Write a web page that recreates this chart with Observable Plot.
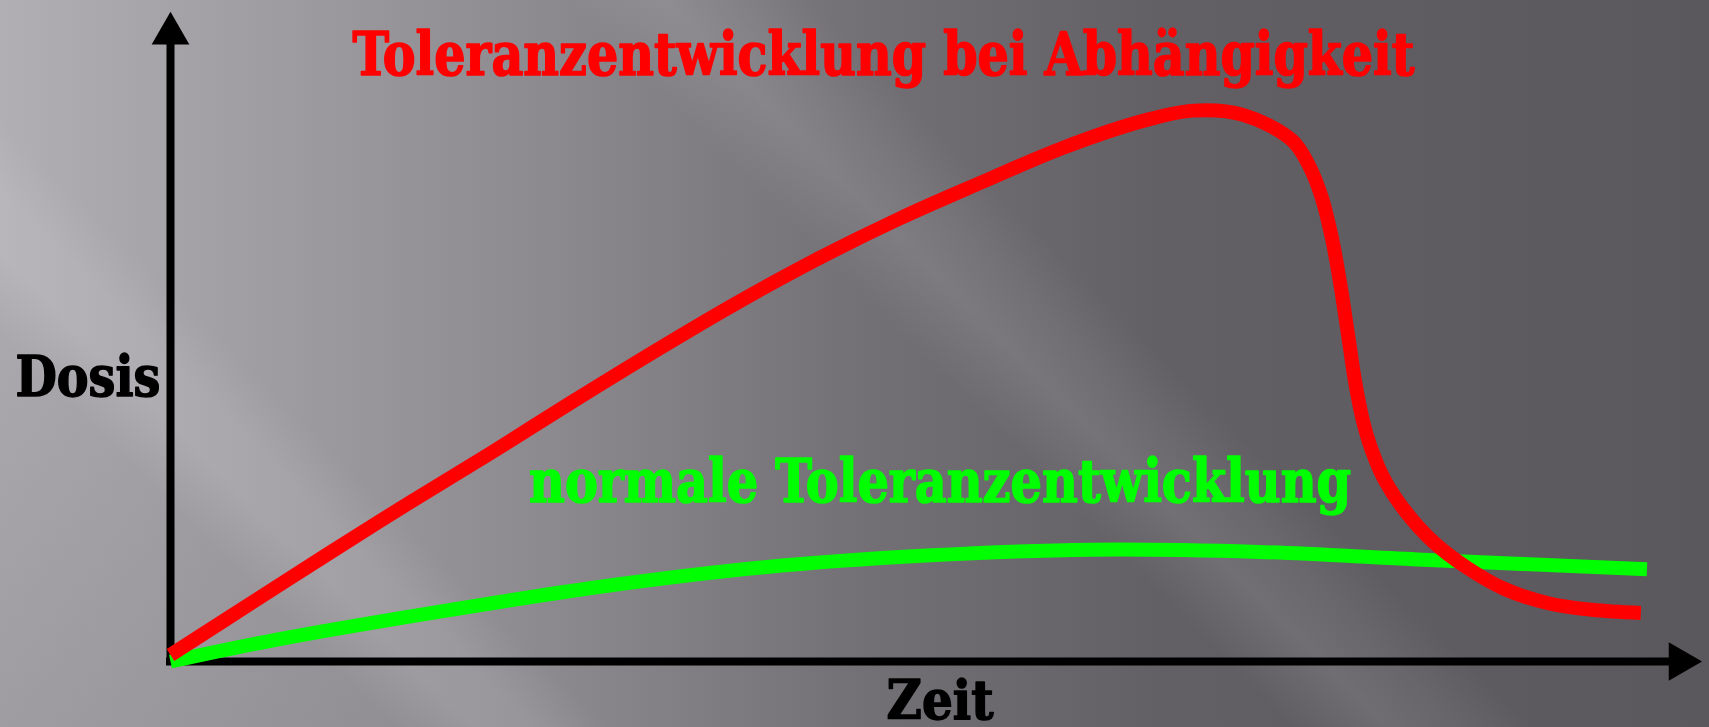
<!DOCTYPE html>
<html><head><meta charset="utf-8">
<script src="https://cdn.jsdelivr.net/npm/d3@7"></script>
<script src="https://cdn.jsdelivr.net/npm/@observablehq/plot@0.6"></script>
<style>
html,body{margin:0;padding:0;width:1709px;height:727px;overflow:hidden;}
body{background:
 linear-gradient(45deg, rgba(0,0,0,0.10) 0%, rgba(0,0,0,0.04) 16%, rgba(255,255,255,0.09) 19.5%, rgba(255,255,255,0.09) 22%, rgba(255,255,255,0) 25%, rgba(255,255,255,0) 53%, rgba(255,255,255,0.10) 57%, rgba(255,255,255,0.06) 60%, rgba(255,255,255,0) 63%),
 linear-gradient(90deg, #b1aeb4 0%, #a3a0a6 12%, #8c898f 32%, #737076 50%, #626065 68%, #5a575d 100%);}
</style></head><body><div id="chart"></div><script>
// Zeit (x) and Dosis (y) readings, 0..100 scale
const zeitAbh = [0, 5.27, 10.26, 15.6, 20.95, 26.29, 31.63, 36.97, 42.31, 47.66, 53.0, 58.35, 63.69, 66.89, 70.1, 73.3, 74.37, 75.23, 75.94, 76.51, 77.0, 77.43, 77.93, 78.5, 79.36, 80.78, 82.56, 84.7, 87.2, 90.05, 92.9, 96.1];
const dosisAbh = [1.0, 8.97, 16.5, 24.4, 32.1, 40.0, 47.7, 55.1, 61.95, 68.15, 73.7, 79.05, 83.25, 84.75, 84.1, 80.2, 76.5, 71.5, 64.8, 57.3, 49.7, 43.0, 37.1, 32.6, 27.9, 22.9, 18.35, 14.5, 11.15, 8.97, 7.95, 7.46];
const zeitNorm = [0, 6.7, 17.4, 28.1, 38.8, 49.4, 60.1, 71.1, 81.5, 96.5];
const dosisNorm = [0, 3.26, 7.6, 11.5, 14.5, 16.3, 17.2, 16.85, 15.7, 14.2];
const labelTitle = "Toleranzentwicklung bei Abhängigkeit";
const labelNorm = "normale Toleranzentwicklung";
const labelY = "Dosis";
const labelX = "Zeit";

const abh = zeitAbh.map((t, i) => ({t, d: dosisAbh[i]}));
const norm = zeitNorm.map((t, i) => ({t, d: dosisNorm[i]}));
const font = "'DejaVu Serif Condensed', 'DejaVu Serif', serif";

const chart = Plot.plot({
  width: 1709, height: 727,
  marginLeft: 170, marginRight: 9, marginTop: 11, marginBottom: 66,
  x: {domain: [0, 100], axis: null},
  y: {domain: [0, 100], axis: null},
  style: {background: "transparent", overflow: "visible"},
  marks: [
    Plot.ruleY([0], {x1: -0.26, x2: 98, stroke: "#000", strokeWidth: 8}),
    Plot.ruleX([0], {y1: -0.6, y2: 95, stroke: "#000", strokeWidth: 8}),
    Plot.dot([0], {x: 98.65, y: 0, symbol: "triangle", r: 14.3, fill: "#000", rotate: 90}),
    Plot.dot([0], {x: 0, y: 96.6, symbol: "triangle", r: 14.0, fill: "#000"}),
    Plot.line(norm, {x: "t", y: "d", stroke: "#00ff00", strokeWidth: 14, curve: "catmull-rom", strokeLinecap: "butt"}),
    Plot.line(abh, {x: "t", y: "d", stroke: "#ff0000", strokeWidth: 14, curve: "catmull-rom", strokeLinecap: "butt"}),
    Plot.text([labelTitle], {x: 46.6, y: 90.2, text: d => d, fill: "#ff0000", stroke: "#ff0000", strokeWidth: 1.6, fontSize: 60, fontWeight: "bold", fontFamily: font, lineAnchor: "bottom", className: "t-title"}),
    Plot.text([labelNorm], {x: 50.3, y: 24.5, text: d => d, fill: "#00ff00", stroke: "#00ff00", strokeWidth: 1.6, fontSize: 60, fontWeight: "bold", fontFamily: font, lineAnchor: "bottom", className: "t-norm"}),
    Plot.text([labelY], {x: -5.4, y: 40.8, text: d => d, fill: "#000", stroke: "#000", strokeWidth: 1.4, fontSize: 56, fontWeight: "bold", fontFamily: font, lineAnchor: "bottom", className: "t-y"}),
    Plot.text([labelX], {x: 50.3, y: -8.9, text: d => d, fill: "#000", stroke: "#000", strokeWidth: 1.4, fontSize: 54, fontWeight: "bold", fontFamily: font, lineAnchor: "bottom", className: "t-x"})
  ]
});
const fit = {"t-title": 1062, "t-norm": 822, "t-y": 145, "t-x": 107};
for (const [cls, len] of Object.entries(fit)) {
  chart.querySelectorAll("." + cls + " text").forEach(el => {
    el.setAttribute("textLength", len);
    el.setAttribute("lengthAdjust", "spacingAndGlyphs");
  });
}
document.getElementById("chart").appendChild(chart);
</script></body></html>
